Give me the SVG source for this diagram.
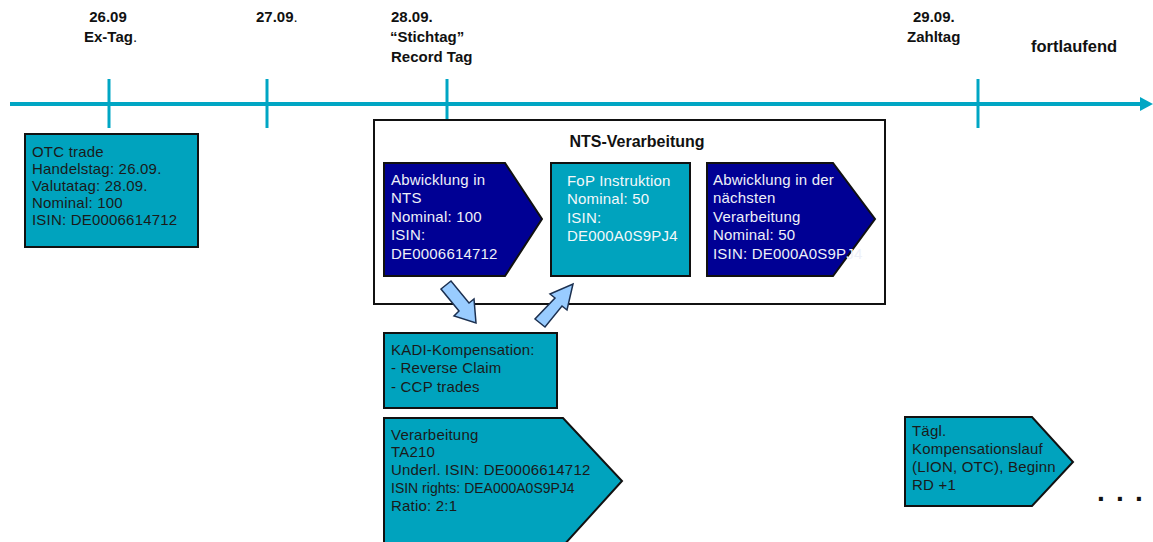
<svg xmlns="http://www.w3.org/2000/svg" width="1153" height="542" viewBox="0 0 1153 542">
<style>
.hd{font-family:"Liberation Sans",Arial,sans-serif;font-weight:bold;font-size:15px;fill:#111}
.t{font-family:"Liberation Sans",Arial,sans-serif;font-size:15px;letter-spacing:0.2px}
.dk{fill:#1a1a1a}
.lt{fill:#eef0f8}
.teal{fill:#00A3BE;stroke:#111;stroke-width:2}
.navy{fill:#000094;stroke:#111;stroke-width:2}
.tick{stroke:#00A6C4;stroke-width:3}
.barr{fill:#99CCFF;stroke:#1c3050;stroke-width:1.5}
</style>
<rect width="1153" height="542" fill="#fff"/>
<g id="timeline">
<line x1="10" y1="104" x2="1142" y2="104" class="tick" style="stroke-width:4"/>
<polygon points="1140,97 1153,104 1140,111" fill="#00A6C4"/>
<line x1="109" y1="79" x2="109" y2="128" class="tick"/>
<line x1="267" y1="79" x2="267" y2="128" class="tick"/>
<line x1="447" y1="79" x2="447" y2="128" class="tick"/>
<line x1="978" y1="79" x2="978" y2="128" class="tick"/>
</g>
<g id="dates">
<text class="hd" x="108" y="22" text-anchor="middle">26.09</text>
<text class="hd" x="84" y="42">Ex-Tag<tspan font-weight="normal">.</tspan></text>
<text class="hd" x="256" y="22">27.09<tspan font-weight="normal">.</tspan></text>
<text class="hd" x="391" y="22">28.09.</text>
<text class="hd" x="390" y="42">“Stichtag”</text>
<text class="hd" x="391" y="62">Record Tag</text>
<text class="hd" x="913" y="22">29.09.</text>
<text class="hd" x="907" y="42">Zahltag</text>
<text class="hd" x="1031" y="52" style="font-size:16.5px">fortlaufend</text>
</g>
<g id="otc">
<rect x="25" y="134" width="173" height="113" class="teal"/>
<text class="t dk"><tspan x="32" y="157">OTC trade</tspan><tspan x="32" y="174">Handelstag: 26.09.</tspan><tspan x="32" y="191">Valutatag: 28.09.</tspan><tspan x="32" y="208">Nominal: 100</tspan><tspan x="32" y="225">ISIN: DE0006614712</tspan></text>
</g>
<g id="nts">
<rect x="374" y="120" width="511" height="184" fill="#fff" stroke="#111" stroke-width="2"/>
<text x="637" y="147" text-anchor="middle" font-family="Liberation Sans, Arial, sans-serif" font-weight="bold" font-size="16" fill="#111">NTS-Verarbeitung</text>
</g>
<g id="abwicklung-nts">
<polygon points="384,163 505,163 542,219 505,276 384,276" class="navy"/>
<text class="t lt"><tspan x="391" y="185">Abwicklung in</tspan><tspan x="391" y="203">NTS</tspan><tspan x="391" y="222">Nominal: 100</tspan><tspan x="391" y="240">ISIN:</tspan><tspan x="391" y="259">DE0006614712</tspan></text>
</g>
<g id="fop">
<rect x="551" y="163" width="139" height="113" class="teal"/>
<text class="t" fill="#f4f8fa"><tspan x="567" y="186">FoP Instruktion</tspan><tspan x="567" y="204">Nominal: 50</tspan><tspan x="567" y="223">ISIN:</tspan><tspan x="567" y="241">DE000A0S9PJ4</tspan></text>
</g>
<g id="abwicklung-next">
<polygon points="707,163 833,163 875,219 833,276 707,276" class="navy"/>
<text class="t lt"><tspan x="713" y="185">Abwicklung in der</tspan><tspan x="713" y="203">nächsten</tspan><tspan x="713" y="222">Verarbeitung</tspan><tspan x="713" y="240">Nominal: 50</tspan><tspan x="713" y="259">ISIN: DE000A0S9PJ4</tspan></text>
</g>
<g id="kadi">
<rect x="384" y="333" width="173" height="75" class="teal"/>
<text class="t dk"><tspan x="391" y="355">KADI-Kompensation:</tspan><tspan x="391" y="373">- Reverse Claim</tspan><tspan x="391" y="392">- CCP trades</tspan></text>
</g>
<g id="verarbeitung">
<polygon points="384,418 563,418 622,481 563,546 384,546" class="teal"/>
<text class="t dk"><tspan x="391" y="440">Verarbeitung</tspan><tspan x="391" y="457">TA210</tspan><tspan x="391" y="475">Underl. ISIN: DE0006614712</tspan><tspan x="391" y="493" font-size="14" letter-spacing="0">ISIN rights: DEA000A0S9PJ4</tspan><tspan x="391" y="511">Ratio: 2:1</tspan></text>
</g>
<g id="kompensationslauf">
<polygon points="905,417 1032,417 1073,462 1032,506 905,506" class="teal"/>
<text class="t dk"><tspan x="912" y="436">Tägl.</tspan><tspan x="912" y="454">Kompensationslauf</tspan><tspan x="912" y="472">(LION, OTC), Beginn</tspan><tspan x="912" y="490">RD +1</tspan></text>
</g>
<g id="more">
<text x="1097" y="501" font-family="Liberation Sans, Arial, sans-serif" font-weight="bold" font-size="28" fill="#111" letter-spacing="11.2">...</text>
</g>
<g id="connectors">
<polygon class="barr" points="441,289 451,281 469,303 474,299 476,323 454,316 459,311"/>
<polygon class="barr" points="535,319 545,327 562,306 567,310 573,284 550,294 555,298"/>
</g>
</svg>
